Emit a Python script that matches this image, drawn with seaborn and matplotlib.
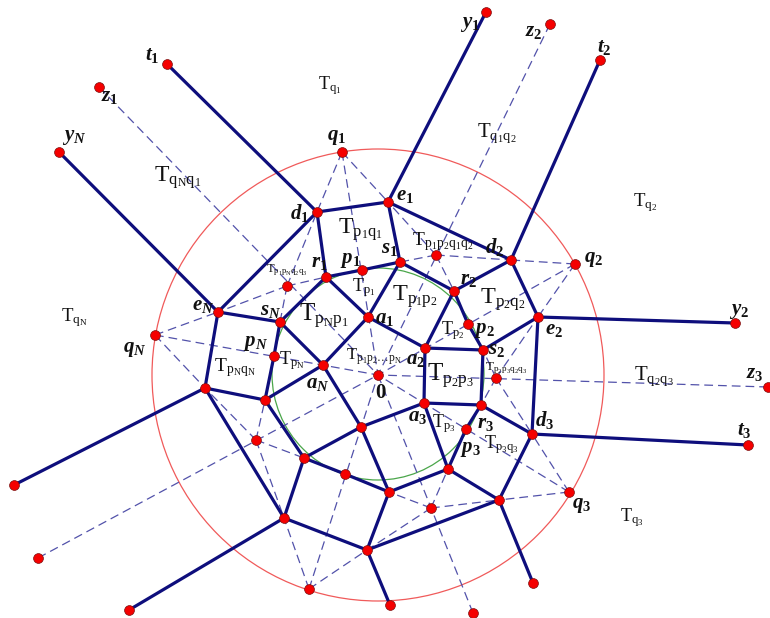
import pandas as pd
import seaborn as sns
import matplotlib.pyplot as plt
from matplotlib.patches import Circle

# node positions (pixels)
node_names = ['O', 'q1', 'q2', 'qN', 'q3', 'q4',
              't1', 'y1', 'z2', 't2', 'z1', 'yN', 'y2', 't3', 'z3',
              'w1', 'w2', 'w3', 'w4', 'w5', 'w6',
              'd1', 'e1', 'd2', 'e2', 'd3', 'eN',
              's1', 'r2', 'p2', 's2', 'a2', 'a1', 'p1', 'r1', 'sN', 'pN', 'aN',
              'a3', 'r3', 'p3', 'f1', 'f2', 'h1', 'h2', 'h3', 'h4',
              'k1', 'k2', 'k3', 'k4',
              'T1', 'T2', 'T3', 'T4', 'T5']
node_x = [378, 342, 575, 155, 569, 309,
          167, 486, 550, 600, 99, 59, 735, 748, 768,
          14, 38, 129, 390, 473, 533,
          317, 388, 511, 538, 532, 218,
          400, 454, 468, 483, 425, 368, 362, 326, 280, 274, 323,
          424, 481, 466, 448, 499, 389, 345, 304, 361,
          367, 284, 205, 265,
          287, 436, 496, 431, 256]
node_y = [375, 152, 264, 335, 492, 589,
          64, 12, 24, 60, 87, 152, 323, 445, 387,
          485, 558, 610, 605, 613, 583,
          212, 202, 260, 317, 434, 312,
          262, 291, 324, 350, 348, 317, 270, 277, 322, 356, 365,
          403, 405, 429, 469, 500, 492, 474, 458, 427,
          550, 518, 388, 400,
          286, 255, 378, 508, 440]

solid_edges = [('t1', 'd1'), ('d1', 'e1'), ('e1', 'y1'), ('e1', 's1'), ('d1', 'r1'),
               ('r1', 'p1'), ('p1', 's1'), ('d1', 'eN'), ('eN', 'yN'), ('eN', 'sN'),
               ('sN', 'r1'), ('r1', 'a1'), ('a1', 's1'), ('a1', 'a2'), ('a2', 'r2'),
               ('r2', 's1'), ('r2', 'd2'), ('d2', 'e1'), ('d2', 't2'), ('d2', 'e2'),
               ('e2', 'y2'), ('e2', 's2'), ('s2', 'p2'), ('p2', 'r2'), ('s2', 'a2'),
               ('s2', 'r3'), ('a2', 'a3'), ('a3', 'r3'), ('r3', 'd3'), ('r3', 'p3'),
               ('p3', 'f1'), ('a3', 'f1'), ('f1', 'f2'), ('f2', 'd3'), ('d3', 't3'),
               ('d3', 'e2'), ('f2', 'w6'), ('f2', 'k1'), ('f1', 'h1'), ('h1', 'k1'),
               ('h1', 'h2'), ('h2', 'h3'), ('h3', 'h4'), ('h4', 'h1'), ('h4', 'a3'),
               ('h4', 'aN'), ('aN', 'a1'), ('aN', 'sN'), ('aN', 'k4'), ('sN', 'pN'),
               ('pN', 'k4'), ('k4', 'h3'), ('k4', 'k3'), ('k3', 'eN'), ('k3', 'w1'),
               ('k3', 'k2'), ('h3', 'k2'), ('k2', 'k1'), ('k2', 'w3'), ('k1', 'w4')]

dashed_edges = [('z1', 'O'), ('z2', 'O'), ('z3', 'O'), ('w2', 'O'), ('w5', 'O'),
                ('qN', 'O'), ('q1', 'O'), ('q2', 'O'), ('q3', 'O'), ('q4', 'O'),
                ('q1', 'd1'), ('q1', 'e1'), ('q2', 'd2'), ('q2', 'e2'), ('q3', 'd3'),
                ('q3', 'f2'), ('qN', 'eN'), ('qN', 'k3'), ('q4', 'k2'), ('q4', 'k1'),
                ('T1', 'd1'), ('T1', 'eN'), ('T1', 'r1'), ('T1', 'sN'),
                ('T2', 'e1'), ('T2', 'd2'), ('T2', 's1'), ('T2', 'r2'),
                ('T3', 'e2'), ('T3', 's2'), ('T3', 'r3'), ('T3', 'd3'),
                ('T4', 'f1'), ('T4', 'f2'), ('T4', 'h1'), ('T4', 'k1'),
                ('T5', 'k3'), ('T5', 'k4'), ('T5', 'h3'), ('T5', 'k2')]

# bold italic vertex labels: text, x, y
vertex_text = [r'\mathbfit{t}_{\mathbf{1}}', r'\mathbfit{y}_{\mathbf{1}}', r'\mathbfit{z}_{\mathbf{2}}',
               r'\mathbfit{t}_{\mathbf{2}}', r'\mathbfit{z}_{\mathbf{1}}', r'\mathbfit{y}_{\mathbfit{N}}',
               r'\mathbfit{q}_{\mathbf{1}}', r'\mathbfit{e}_{\mathbf{1}}', r'\mathbfit{d}_{\mathbf{1}}',
               r'\mathbfit{s}_{\mathbf{1}}', r'\mathbfit{d}_{\mathbf{2}}', r'\mathbfit{p}_{\mathbf{1}}',
               r'\mathbfit{r}_{\mathbf{1}}', r'\mathbfit{r}_{\mathbf{2}}', r'\mathbfit{p}_{\mathbf{2}}',
               r'\mathbfit{q}_{\mathbf{2}}', r'\mathbfit{e}_{\mathbf{2}}', r'\mathbfit{y}_{\mathbf{2}}',
               r'\mathbfit{z}_{\mathbf{3}}', r'\mathbfit{t}_{\mathbf{3}}', r'\mathbfit{d}_{\mathbf{3}}',
               r'\mathbfit{q}_{\mathbf{3}}', r'\mathbfit{e}_{\mathbfit{N}}', r'\mathbfit{s}_{\mathbfit{N}}',
               r'\mathbfit{p}_{\mathbfit{N}}', r'\mathbfit{q}_{\mathbfit{N}}', r'\mathbfit{a}_{\mathbf{1}}',
               r'\mathbfit{a}_{\mathbf{2}}', r'\mathbfit{a}_{\mathbfit{N}}', r'\mathbf{0}',
               r'\mathbfit{a}_{\mathbf{3}}', r'\mathbfit{r}_{\mathbf{3}}', r'\mathbfit{p}_{\mathbf{3}}',
               r'\mathbfit{s}_{\mathbf{2}}']
vertex_x = [152, 470, 534, 604, 110, 74, 337, 405, 300, 390, 495, 350, 319, 469, 484, 594, 554,
            739, 755, 744, 545, 582, 203, 271, 256, 135, 385, 416, 318, 381, 418, 486, 470, 497]
vertex_y = [55, 24, 31, 47, 96, 137, 137, 195, 213, 248, 247, 260, 262, 279, 330, 259, 329,
            311, 373, 430, 420, 505, 305, 310, 343, 349, 318, 359, 383, 392, 416, 423, 449, 349]

# region labels: text, x, y, size
region_text = [r'q_1', r'q_1q_2', r'q_2', r'q_Nq_1', r'p_1q_1', r'p_1p_2q_1q_2', r'p_1p_Nq_2q_3',
               r'p_1', r'p_Np_1', r'p_1p_2', r'p_2q_2', r'p_2', r'p_2p_3', r'p_2p_3q_2q_3',
               r'p_Nq_N', r'p_N', r'q_N', r'q_3', r'q_2q_3', r'p_3', r'p_3q_3', r'p_1p_2\ldots p_N']
region_x = [330, 497, 645, 178, 360, 443, 287, 364, 324, 415, 503, 453, 451, 506, 235, 292, 74,
            632, 654, 444, 501, 374]
region_y = [86, 133, 203, 178, 230, 242, 270, 288, 316, 297, 300, 331, 376, 368, 368, 361, 318,
            518, 376, 424, 445, 357]
region_size = [13, 15, 13.5, 17, 17, 14, 9, 13, 18, 17.5, 17.5, 13, 18, 9.5, 14, 13, 13.5, 13,
               15, 13, 13, 12]

sns.set_theme(style='white')
plt.rcParams['mathtext.fontset'] = 'custom'
plt.rcParams['mathtext.rm'] = 'Liberation Serif'
plt.rcParams['mathtext.it'] = 'Liberation Serif:italic'
plt.rcParams['mathtext.bf'] = 'Liberation Serif:bold'
plt.rcParams['mathtext.bfit'] = 'Liberation Serif:italic:bold'

nodes = pd.DataFrame({'x': node_x, 'y': node_y}, index=node_names)


def edge_table(edges):
    rows = []
    for i, (a, b) in enumerate(edges):
        rows.append({'edge': i, 'x': nodes.x[a], 'y': nodes.y[a]})
        rows.append({'edge': i, 'x': nodes.x[b], 'y': nodes.y[b]})
    return pd.DataFrame(rows)


fig = plt.figure(figsize=(7.7, 6.18), dpi=100)
ax = fig.add_axes([0, 0, 1, 1])

ax.add_patch(Circle((378, 375), 226, fill=False, ec='#f05a5a', lw=0.9, zorder=1))
ax.add_patch(Circle((378, 374), 106, fill=False, ec='#4aa64a', lw=0.9, zorder=1))

sns.lineplot(data=edge_table(dashed_edges), x='x', y='y', units='edge', estimator=None, sort=False,
             color='#5252aa', lw=0.9, linestyle=(0, (7, 4)), ax=ax, zorder=2)
sns.lineplot(data=edge_table(solid_edges), x='x', y='y', units='edge', estimator=None, sort=False,
             color='#0e0e7c', lw=2.3, ax=ax, zorder=3)
sns.scatterplot(data=nodes, x='x', y='y', color='#f50000', edgecolor='#7a1010', linewidth=0.5,
                s=50, ax=ax, zorder=4, clip_on=True)

for t, x, y in zip(vertex_text, vertex_x, vertex_y):
    ax.text(x, y, f'${t}$', ha='center', va='center', fontsize=15, color='#111111', zorder=5)
for t, x, y, s in zip(region_text, region_x, region_y, region_size):
    sub = t.replace('_N', r'_\mathrm{N}')
    ax.text(x, y, r'$\mathrm{T}_{\mathrm{' + sub + '}}$', ha='center', va='center', fontsize=s,
            color='#111111', zorder=5)

ax.set_xlim(0, 770)
ax.set_ylim(618, 0)
ax.axis('off')
fig.savefig('out.png', dpi=100, facecolor='white')
plt.close(fig)
